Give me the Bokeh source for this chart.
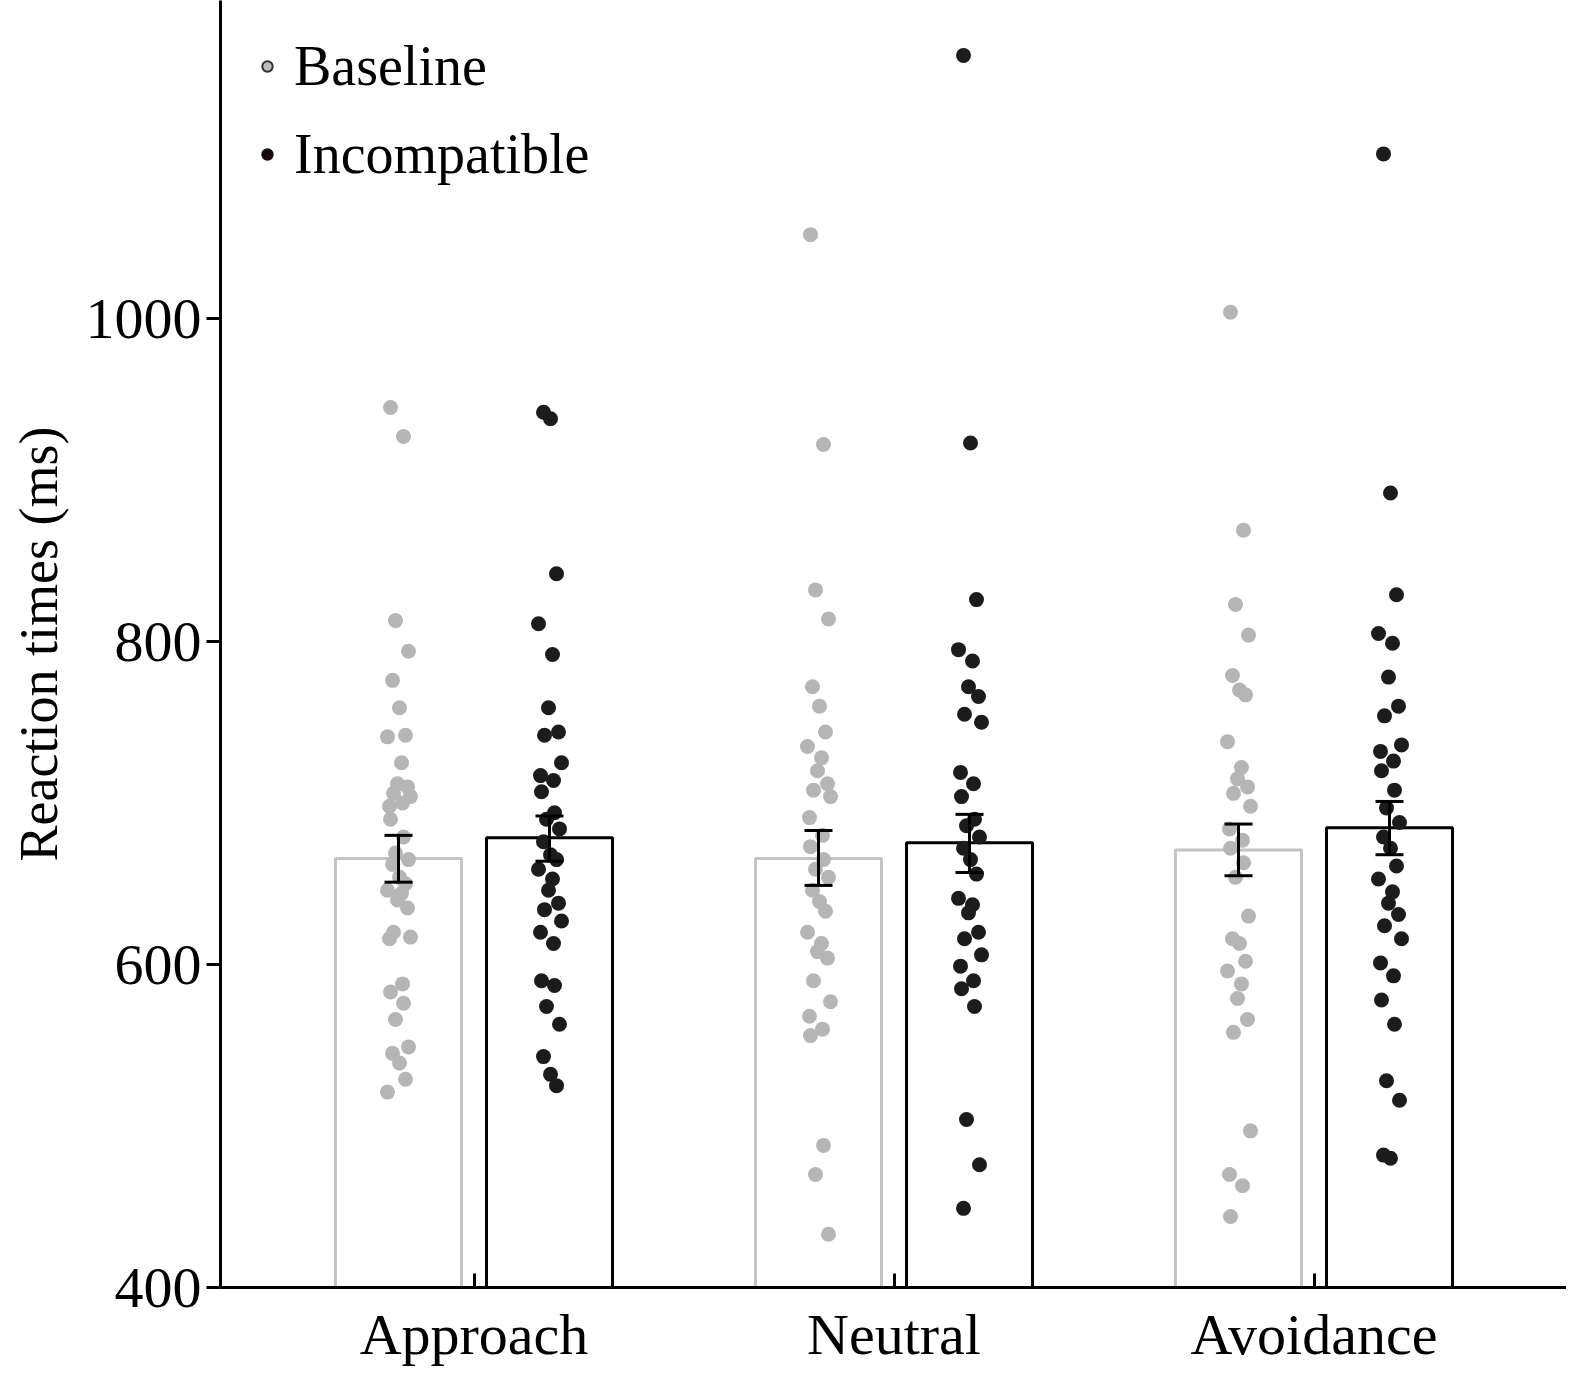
from bokeh.plotting import figure
from bokeh.models import FixedTicker, Range1d, Legend, LegendItem, Whisker, ColumnDataSource
from bokeh.embed import file_html
from bokeh.resources import INLINE

categories = ["Approach", "Neutral", "Avoidance"]
base_mean = [665.6, 665.6, 671.0]
inc_mean = [678.5, 675.4, 684.7]
base_lo = [651, 649, 655]
base_hi = [680, 683, 687]
inc_lo = [664, 657, 668]
inc_hi = [692, 693, 701]

base_pts = [
    [945, 927, 813, 794, 776, 759, 742, 741, 725, 712, 710, 706, 704, 698, 700, 690, 679, 669, 665, 662, 654, 650,
     646, 644, 640, 635, 620, 617, 616, 588, 583, 576, 566, 549, 545, 539, 529, 521],
    [1052, 922, 832, 814, 772, 760, 744, 735, 728, 720, 712, 708, 704, 691, 680, 673, 665, 659, 654, 646, 639, 633,
     620, 613, 608, 604, 590, 577, 568, 560, 556, 488, 470, 433],
    [1004, 869, 823, 804, 779, 770, 767, 738, 722, 715, 710, 706, 698, 684, 677, 672, 663, 654, 630, 616, 613, 602,
     596, 588, 579, 566, 558, 497, 470, 463, 444],
]
inc_pts = [
    [942, 938, 842, 811, 792, 759, 744, 742, 725, 717, 714, 707, 694, 690, 684, 676, 668, 665, 659, 653, 646, 638,
     634, 627, 620, 613, 590, 587, 574, 563, 543, 532, 525],
    [1163, 923, 826, 795, 788, 772, 766, 755, 750, 719, 712, 704, 690, 686, 679, 672, 665, 656, 641, 637, 632, 620,
     616, 606, 599, 590, 585, 574, 504, 476, 449],
    [1102, 892, 829, 805, 799, 778, 760, 754, 736, 732, 726, 720, 708, 697, 688, 679, 672, 661, 653, 645, 638, 631,
     624, 616, 601, 593, 578, 563, 528, 516, 482, 480],
]

FONT = "Liberation Serif"
GAP = 420
BX, IX, BW = 178, 329, 126
jit = [-8, 5, -3, 10, -6, 1, 7, -11, 3, -1, 9, -5, 12, -9, 4]

p = figure(width=1566, height=1369, output_backend="svg", toolbar_location=None,
           x_range=Range1d(0, 1346), y_range=Range1d(400, 1197),
           min_border_left=220, min_border_right=0, min_border_top=0, min_border_bottom=72)
p.outline_line_color = None
p.grid.visible = False

bx = [BX + GAP * g for g in range(3)]
ix = [IX + GAP * g for g in range(3)]
p.vbar(x=bx, top=base_mean, bottom=400, width=BW, fill_color="white", line_color="#c4c4c4", line_width=3)
p.vbar(x=ix, top=inc_mean, bottom=400, width=BW, fill_color="white", line_color="black", line_width=3)

for g in range(3):
    xs = [bx[g] + jit[i % len(jit)] for i in range(len(base_pts[g]))]
    p.scatter(xs, base_pts[g], size=15, fill_color="#b5b5b5", line_color=None)
    xs = [ix[g] + jit[(i + 4) % len(jit)] for i in range(len(inc_pts[g]))]
    p.scatter(xs, inc_pts[g], size=15, fill_color="#1c1c1c", line_color=None)

for xs, lo, hi in ((bx, base_lo, base_hi), (ix, inc_lo, inc_hi)):
    src = ColumnDataSource(dict(x=xs, lo=lo, hi=hi))
    w = Whisker(source=src, base="x", lower="lo", upper="hi", line_color="black", line_width=3, level="overlay")
    w.upper_head.size = 28; w.lower_head.size = 28
    w.upper_head.line_width = 3; w.lower_head.line_width = 3
    p.add_layout(w)

lb = p.scatter([-100], [0], size=22, fill_color="#bdbdbd", line_color="#333333", line_width=2)
li = p.scatter([-100], [0], size=22, fill_color="#1a0508", line_color="#111111", line_width=2)
leg = Legend(items=[LegendItem(label="Baseline", renderers=[lb]), LegendItem(label="Incompatible", renderers=[li])],
             location="top_left", background_fill_alpha=0, border_line_color=None,
             label_text_font=FONT, label_text_font_size="56px", label_text_color="black",
             spacing=24, glyph_width=26, glyph_height=26,
             label_standoff=14, padding=12, margin=34)
p.add_layout(leg)

centers = [(BX + IX) / 2 + GAP * g for g in range(3)]
p.xaxis.ticker = FixedTicker(ticks=centers)
p.xaxis.major_label_overrides = {c: n for c, n in zip(centers, categories)}
p.xaxis.major_tick_in = 14
p.xaxis.major_tick_out = 0
p.xaxis.minor_tick_line_color = None
p.xaxis.major_label_text_font = FONT
p.xaxis.major_label_text_font_size = "58px"
p.xaxis.major_label_standoff = 14

p.yaxis.ticker = FixedTicker(ticks=[400, 600, 800, 1000])
p.yaxis.major_tick_out = 14
p.yaxis.major_tick_in = 0
p.yaxis.minor_tick_line_color = None
p.yaxis.major_label_text_font = FONT
p.yaxis.major_label_text_font_size = "58px"
p.yaxis.axis_label = "Reaction times (ms)"
p.yaxis.axis_label_text_font = FONT
p.yaxis.axis_label_text_font_size = "54px"
p.yaxis.axis_label_text_font_style = "normal"
p.yaxis.axis_label_standoff = 14

for ax in (p.xaxis, p.yaxis):
    ax.axis_line_width = 3
    ax.major_tick_line_width = 3
    ax.axis_line_color = "black"
    ax.major_tick_line_color = "black"
    ax.major_label_text_color = "black"
    ax.axis_label_text_color = "black"

open("out.html", "w").write(file_html(p, INLINE))
